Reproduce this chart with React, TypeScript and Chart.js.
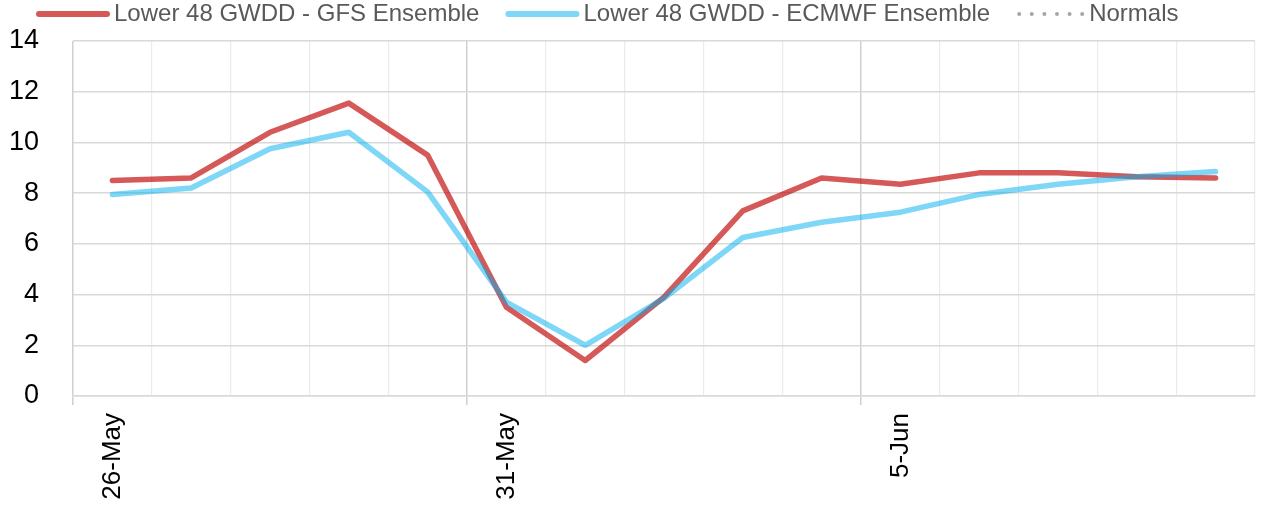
import React, { useEffect, useRef } from "react";
import { Chart, registerables } from "chart.js";

Chart.register(...registerables);

const categories = [
  "26-May", "27-May", "28-May", "29-May", "30-May", "31-May", "1-Jun", "2-Jun",
  "3-Jun", "4-Jun", "5-Jun", "6-Jun", "7-Jun", "8-Jun", "9-Jun",
];
const gfsValues = [8.5, 8.6, 10.4, 11.55, 9.5, 3.5, 1.4, 3.9, 7.3, 8.6, 8.35, 8.8, 8.8, 8.65, 8.6];
const ecmwfValues = [7.95, 8.2, 9.75, 10.4, 8.05, 3.7, 2.0, 3.85, 6.25, 6.85, 7.25, 7.95, 8.35, 8.65, 8.85];
const normalsValues: number[] = [];

const seriesNames = [
  "Lower 48 GWDD - GFS Ensemble",
  "Lower 48 GWDD - ECMWF Ensemble",
  "Normals",
];

const yMin = 0;
const yMax = 14;
const yStep = 2;
const labelEvery = 5;

const FONT = '"Liberation Sans", Arial, Helvetica, sans-serif';

const legendPlugin = {
  id: "excelLegend",
  afterDraw(chart: any) {
    const ctx = chart.ctx;
    ctx.save();
    ctx.font = `24px ${FONT}`;
    ctx.textBaseline = "middle";
    ctx.textAlign = "left";
    let x = 37;
    const y = 14;
    chart.data.datasets.forEach((ds: any) => {
      ctx.beginPath();
      ctx.lineCap = "round";
      let tx;
      if (ds.dotted) {
        ctx.strokeStyle = ds.borderColor;
        ctx.lineWidth = 4;
        ctx.setLineDash([0, 12.6]);
        ctx.moveTo(x + 2, y);
        ctx.lineTo(x + 66, y);
        tx = x + 72;
      } else {
        ctx.strokeStyle = ds.borderColor;
        ctx.lineWidth = 6;
        ctx.setLineDash([]);
        ctx.moveTo(x + 2, y);
        ctx.lineTo(x + 70, y);
        tx = x + 77;
      }
      ctx.stroke();
      ctx.setLineDash([]);
      ctx.fillStyle = "#595959";
      ctx.fillText(ds.label, tx, y);
      x = tx + ctx.measureText(ds.label).width + 27;
    });
    ctx.restore();
  },
};

export default function App() {
  const ref = useRef<HTMLCanvasElement | null>(null);

  useEffect(() => {
    if (!ref.current) return;
    const chart = new Chart(ref.current, {
      type: "line",
      data: {
        labels: categories,
        datasets: [
          {
            label: seriesNames[0],
            data: gfsValues,
            borderColor: "rgba(192,0,0,0.65)",
            backgroundColor: "rgba(192,0,0,0.65)",
            borderWidth: 5.5,
            pointRadius: 0,
            tension: 0,
            order: 2,
            borderCapStyle: "round",
            borderJoinStyle: "round",
          } as any,
          {
            label: seriesNames[1],
            data: ecmwfValues,
            borderColor: "rgba(0,176,240,0.5)",
            backgroundColor: "rgba(0,176,240,0.5)",
            borderWidth: 5.5,
            pointRadius: 0,
            tension: 0,
            order: 1,
            borderCapStyle: "round",
            borderJoinStyle: "round",
          } as any,
          {
            label: seriesNames[2],
            data: normalsValues,
            borderColor: "#a6a6a6",
            backgroundColor: "#a6a6a6",
            borderWidth: 4,
            borderDash: [0, 13],
            pointRadius: 0,
            order: 3,
            dotted: true,
          } as any,
        ],
      },
      options: {
        animation: false,
        responsive: true,
        maintainAspectRatio: false,
        layout: { padding: { top: 41, right: 13, bottom: 0, left: 0 } },
        plugins: {
          legend: { display: false },
          tooltip: { enabled: false },
        },
        scales: {
          x: {
            offset: true,
            grid: {
              offset: true,
              color: (c: any) => (c.index % labelEvery === 0 ? "#d0d0d0" : "#ebebeb"),
              lineWidth: (c: any) => (c.index % labelEvery === 0 ? 1.5 : 1.2),
              drawTicks: true,
              tickLength: 9,
              tickColor: (c: any) => (c.index % labelEvery === 0 ? "#d0d0d0" : "rgba(0,0,0,0)"),
            },
            border: { display: true, color: "#d9d9d9", width: 1.5 },
            ticks: {
              autoSkip: false,
              maxRotation: 90,
              minRotation: 90,
              padding: 8,
              color: "#000",
              font: { family: FONT, size: 26 },
              callback: (_v: any, i: number) => (i % labelEvery === 0 ? categories[i] : ""),
            },
            afterFit: (scale: any) => {
              scale.height = 114;
              scale.paddingLeft = 0;
              scale.paddingRight = 0;
            },
          },
          y: {
            min: yMin,
            max: yMax,
            grid: { color: "#d9d9d9", lineWidth: 1.5, drawTicks: false },
            border: { display: false },
            ticks: {
              stepSize: yStep,
              padding: 34,
              color: "#000",
              font: { family: FONT, size: 27 },
            },
            afterFit: (scale: any) => {
              scale.width = 73;
              scale.paddingTop = 0;
              scale.paddingBottom = 0;
            },
          },
        },
      },
      plugins: [legendPlugin],
    });
    return () => chart.destroy();
  }, []);

  return (
    <div style={{ position: "fixed", left: 0, top: 0, width: 1268, height: 510, background: "#fff" }}>
      <canvas ref={ref} />
    </div>
  );
}
